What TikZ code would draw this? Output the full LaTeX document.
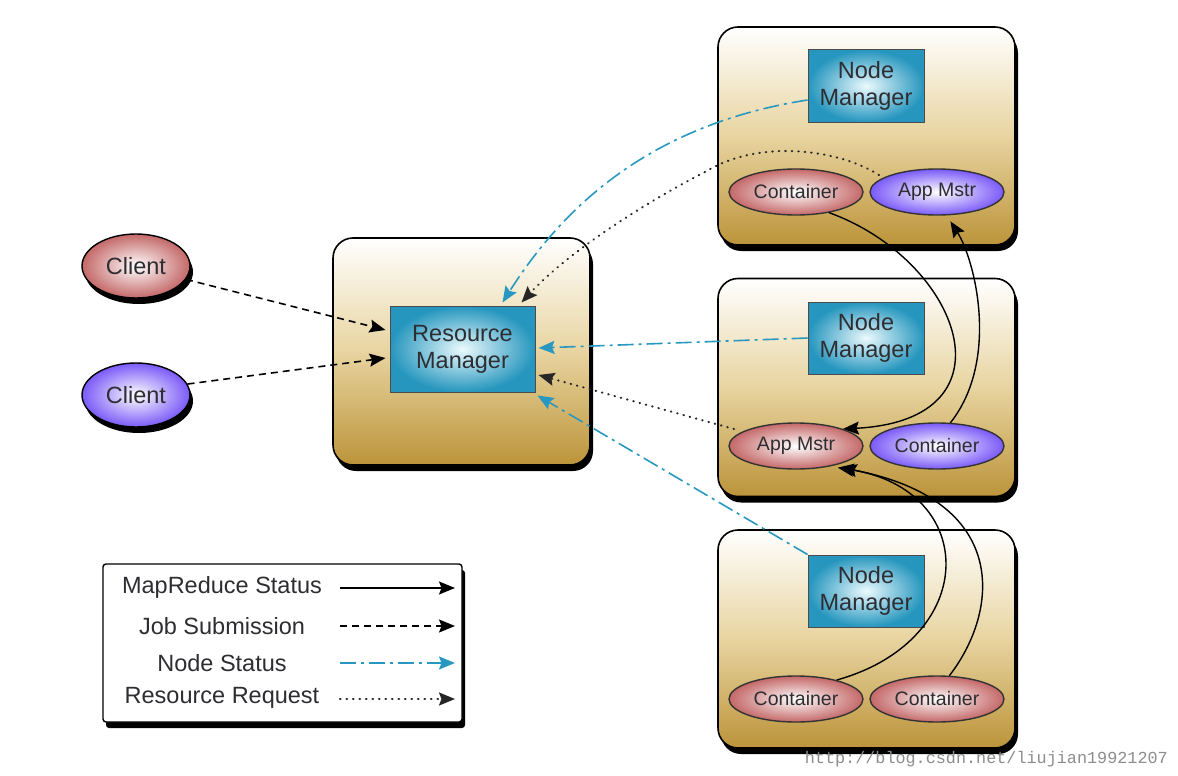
\documentclass[tikz,border=0pt]{standalone}
\usepackage{fontspec}
\setmainfont{Liberation Sans}
\setmonofont{Liberation Mono}
\usetikzlibrary{shapes.geometric,arrows.meta,calc,shadows}
\definecolor{boxtan}{RGB}{188,148,58}
\definecolor{boxmid}{RGB}{232,212,160}
\definecolor{teal}{RGB}{38,150,190}
\definecolor{tealin}{RGB}{235,250,253}
\definecolor{redout}{RGB}{196,104,104}
\definecolor{purpout}{RGB}{122,90,248}
\definecolor{nscol}{RGB}{40,152,192}
\definecolor{wmgray}{RGB}{140,140,140}
\definecolor{txt}{RGB}{45,45,50}
\begin{document}
\begin{tikzpicture}[x=1pt,y=-1pt,
  hostbox/.style={draw=black,line width=1.6pt,rounded corners=20pt,
    top color=white,bottom color=boxtan,middle color=boxmid,
    drop shadow={shadow xshift=3pt,shadow yshift=-6pt,fill=black,opacity=1},
    minimum width=297pt,minimum height=218pt,inner sep=0pt},
  mgr/.style={draw=black!70,line width=1pt,inner color=tealin,outer color=teal,
    minimum width=116pt,minimum height=72pt,inner sep=0pt,align=center,
    font=\fontsize{23.5}{27}\selectfont,text=txt},
  ell/.style={ellipse,draw=black!80,line width=1.4pt,inner sep=0pt,
    minimum width=134pt,minimum height=46pt,font=\fontsize{19.5}{22}\selectfont,text=txt},
  redell/.style={ell,inner color=white,outer color=redout},
  purpell/.style={ell,inner color=white,outer color=purpout},
  client/.style={ellipse,draw=black,line width=1.4pt,inner sep=0pt,
    minimum width=108pt,minimum height=64pt,font=\fontsize{23.5}{26}\selectfont,text=txt,
    drop shadow={shadow xshift=3pt,shadow yshift=-6pt,fill=black,opacity=1}},
  tip/.style={-{Stealth[length=16pt,width=13pt,inset=2.5pt]}},
  mr/.style={tip,line width=1.4pt,black},
  job/.style={tip,line width=1.6pt,black,dash pattern=on 7pt off 5pt},
  ns/.style={tip,line width=1.6pt,nscol,dash pattern=on 16pt off 5pt on 3pt off 5pt},
  rr/.style={tip,line width=2.1pt,black!85,line cap=round,dash pattern=on 0.5pt off 6pt},
  lgtext/.style={font=\fontsize{23.5}{26}\selectfont,text=txt,anchor=center}
]
\useasboundingbox (0,0) rectangle (1178,776);

% host boxes
\node[hostbox] (h1) at (866.5,136) {};
\node[hostbox] (h2) at (866.5,387.5) {};
\node[hostbox] (h3) at (866.5,639) {};
\node[hostbox,minimum width=257pt,minimum height=227pt] (hrm) at (461.5,351.5) {};

% managers
\node[mgr,minimum width=145pt,minimum height=86pt] (rm) at (462.5,349) {Resource\\Manager};
\node[mgr] (nm1) at (866,86) {Node\\Manager};
\node[mgr] (nm2) at (866,338) {Node\\Manager};
\node[mgr] (nm3) at (866,591) {Node\\Manager};

% ellipses
\node[redell] (c1) at (796,192) {Container};
\node[purpell] (am1) at (937,192) {App Mstr};
\node[redell] (am2) at (796,446) {App Mstr};
\node[purpell] (c2) at (937,446) {Container};
\node[redell] (c3) at (796,699) {Container};
\node[redell] (c4) at (937,699) {Container};

% clients
\node[client,inner color=white,outer color=redout] (cl1) at (136,266) {Client};
\node[client,inner color=white,outer color=purpout] (cl2) at (136,395) {Client};

% job submission
\draw[job] (cl1.-15) -- ($(rm.west)+(-4,-19)$);
\draw[job] (cl2.12) -- ($(rm.west)+(-4,9)$);

% node status
\draw[ns] ($(nm1.west)+(0,14)$) .. controls (680,120) and (580,180) .. ($(rm.north)+(40,-3)$);
\draw[ns] (nm2.west) -- ($(rm.east)+(3,-1)$);
\draw[ns] (nm3.north west) -- ($(rm.south east)+(2,3)$);

% resource request
\draw[rr] ($(am1.center)+(-58,-17)$) .. controls (840,150) and (760,138) .. (705,172)
   .. controls (650,200) and (570,250) .. ($(rm.north)+(59,-3)$);
\draw[rr] ($(am2.center)+(-62,-17)$) -- ($(rm.east)+(3,26)$);

% mapreduce status
\draw[mr] (c1.-32) .. controls (960,260) and (1020,420) .. (am2.20);
\draw[mr] (c2.60) .. controls (1000,360) and (975,260) .. ($(am1.-62)+(1,6)$);
\draw[mr] (c3.25) .. controls (980,640) and (980,490) .. ($(am2.-24)+(0,3)$);
\draw[mr] (c4.62) .. controls (1000,610) and (1010,500) .. ($(am2.-24)+(3,3)$);

% legend
\node[draw=black,line width=1.4pt,fill=white,rounded corners=3pt,
  drop shadow={shadow xshift=3pt,shadow yshift=-6pt,fill=black,opacity=1},
  minimum width=359pt,minimum height=158pt] (leg) at (282.5,643) {};
\node[lgtext] (l1) at (222,587) {MapReduce Status};
\node[lgtext] (l2) at (222,626) {Job Submission};
\node[lgtext] (l3) at (222,663) {Node Status};
\node[lgtext] (l4) at (222,698) {Resource Request};
\coordinate (a1s) at (340,588); \coordinate (a1e) at (455,588);
\coordinate (a2s) at (340,626); \coordinate (a2e) at (455,626);
\coordinate (a3s) at (340,663); \coordinate (a3e) at (455,663);
\coordinate (a4s) at (340,699); \coordinate (a4e) at (455,699);
\draw[mr] (a1s) -- (a1e);
\draw[job] (a2s) -- (a2e);
\draw[ns] (a3s) -- (a3e);
\draw[rr] (a4s) -- (a4e);

% watermark
\node[anchor=base east,font=\ttfamily\fontsize{16.8}{18}\selectfont,text=wmgray,inner sep=0pt] (wm) at (1168,763) {http://blog.csdn.net/liujian19921207};
\end{tikzpicture}
\end{document}
